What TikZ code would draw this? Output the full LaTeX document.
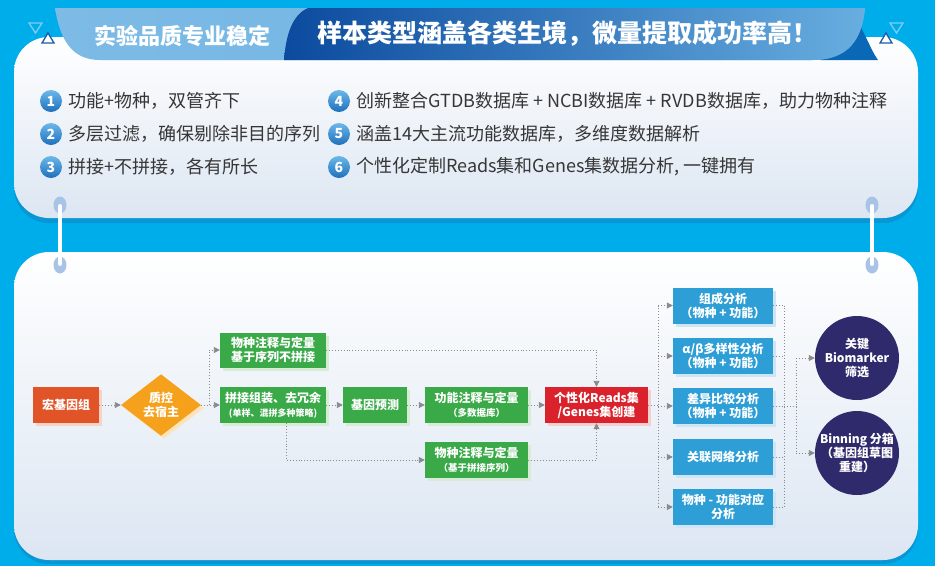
\documentclass[tikz,border=0pt]{standalone}
\usepackage{fontspec}
\setmainfont{Noto Sans CJK SC}
\usetikzlibrary{shapes.geometric,arrows.meta,shadows}
\definecolor{bg}{HTML}{00ADEB}
\definecolor{cardshadow}{HTML}{0896D4}
\definecolor{cardbot}{HTML}{DCE6F2}
\definecolor{cardmid}{HTML}{F4F7FB}
\definecolor{tabL}{HTML}{7DBBE6}
\definecolor{tabR}{HTML}{6AAFE0}
\definecolor{hdark}{HTML}{0B4A9E}
\definecolor{hright}{HTML}{68AEE0}
\definecolor{fold}{HTML}{0A68B6}
\definecolor{triL}{HTML}{7FCDF2}
\definecolor{triD}{HTML}{1B5CAA}
\definecolor{pincol}{HTML}{A8C3E6}
\definecolor{txt}{HTML}{363636}
\definecolor{numT}{HTML}{6CB8EA}
\definecolor{numB}{HTML}{1E70BC}
\definecolor{fgreen}{HTML}{3AAA48}
\definecolor{fgreenS}{HTML}{D6ECD4}
\definecolor{forange}{HTML}{E05428}
\definecolor{forangeS}{HTML}{F7D3C6}
\definecolor{fyellow}{HTML}{F5A11B}
\definecolor{fyellowS}{HTML}{FBE4BC}
\definecolor{fred}{HTML}{D9222B}
\definecolor{fredS}{HTML}{F5CFCF}
\definecolor{fblue}{HTML}{2E9ED6}
\definecolor{fblueS}{HTML}{CFE5F3}
\definecolor{fnavy}{HTML}{2F2A6C}
\definecolor{conncol}{HTML}{8A8A8A}
\begin{document}
\begin{tikzpicture}[x=1pt,y=-1pt,
  flowbox/.style={rectangle, text=white, font=\bfseries\fontsize{12}{14}\selectfont, align=center, inner sep=0pt, minimum height=36pt},
  gbox/.style={flowbox, fill=fgreen, general shadow={fill=fgreenS, shadow xshift=3pt, shadow yshift=-3pt}},
  bbox/.style={flowbox, fill=fblue, minimum width=100pt, general shadow={fill=fblueS, shadow xshift=3pt, shadow yshift=-3pt}},
  bigc/.style={circle, fill=fnavy, text=white, minimum size=84pt, inner sep=0pt, align=center, font=\bfseries\fontsize{12}{14}\selectfont},
  conn/.style={draw=conncol, dotted, line width=0.9pt, -{Triangle[length=6pt,width=6pt]}},
  plain/.style={draw=conncol, dotted, line width=0.9pt},
  numc/.style={circle, top color=numT, bottom color=numB, minimum size=22pt, inner sep=0pt, text=white, font=\bfseries\fontsize{14}{14}\selectfont},
  item/.style={anchor=west, inner sep=0pt, text=txt, font=\fontsize{18}{20}\selectfont},
  tri/.style={line width=1.3pt, line join=miter}
]
\useasboundingbox (0,0) rectangle (935,566);
\fill[bg] (0,0) rectangle (935,566);

% cards
\fill[cardshadow, rounded corners=35pt] (14,42) rectangle (918,223);
\shade[top color=white, middle color=cardmid, bottom color=cardbot, rounded corners=35pt] (14,37) rectangle (918,218);
\fill[cardshadow, rounded corners=35pt] (14,256) rectangle (918,564);
\shade[top color=white, middle color=cardmid, bottom color=cardbot, rounded corners=35pt] (14,252) rectangle (918,560);

% header
\fill[fold] (835,22) -- (858,22) .. controls (868,40) and (872,52) .. (878,60) -- (820,60) -- cycle;
\shade[left color=tabL, right color=tabR] (55,8) -- (865,8) .. controls (862,40) and (848,60) .. (812,60) -- (100,60) .. controls (72,60) and (60,40) .. (55,8) -- cycle;
\shade[left color=hdark, right color=hright] (308,8) -- (865,8) .. controls (862,40) and (848,60) .. (812,60) -- (284,60) .. controls (286,35) and (292,15) .. (308,8) -- cycle;
\node[text=white, font=\bfseries\fontsize{22}{24}\selectfont, inner sep=0pt] (h1) at (182,36) {实验品质专业稳定};
\node[text=white, font=\bfseries\fontsize{25}{27}\selectfont, inner sep=0pt] (h2) at (567,34) {样本类型涵盖各类生境，微量提取成功率高！};

% triangles
\draw[tri, draw=triL] (29,23) -- (42,23) -- (35.5,33) -- cycle;
\draw[tri, draw=triD, fill=white] (42,43) -- (54,43) -- (48,33) -- cycle;
\draw[tri, draw=triL] (890,23) -- (903,23) -- (896.5,33) -- cycle;
\draw[tri, draw=triD, fill=white] (880,43) -- (892,43) -- (886,33) -- cycle;

% pins
\foreach \px in {60,872} {
  \fill[pincol] (\px,205) ellipse [x radius=6.5pt, y radius=8.5pt];
  \fill[pincol] (\px,265) ellipse [x radius=6.5pt, y radius=8.5pt];
  \draw[white, line width=4pt, line cap=round] (\px,206) -- (\px,264);
}

% list
\node[numc] (n1) at (51,101) {1};
\node[item] (t1) at (68,101) {功能+物种，双管齐下};
\node[numc] (n2) at (51,134) {2};
\node[item] (t2) at (68,134) {多层过滤，确保剔除非目的序列};
\node[numc] (n3) at (51,167) {3};
\node[item] (t3) at (68,167) {拼接+不拼接，各有所长};
\node[numc] (n4) at (339,101) {4};
\node[item] (t4) at (356,101) {创新整合GTDB数据库 + NCBI数据库 + RVDB数据库，助力物种注释};
\node[numc] (n5) at (339,134) {5};
\node[item] (t5) at (356,134) {涵盖14大主流功能数据库，多维度数据解析};
\node[numc] (n6) at (339,167) {6};
\node[item] (t6) at (356,167) {个性化定制Reads集和Genes集数据分析, 一键拥有};

% flow nodes
\node[flowbox, fill=forange, minimum width=66pt, general shadow={fill=forangeS, shadow xshift=3pt, shadow yshift=-3pt}] (mg) at (66,405) {宏基因组};
\node[diamond, fill=fyellow, text=white, font=\bfseries\fontsize{12}{14}\selectfont, align=center, inner sep=0pt, minimum width=80pt, minimum height=45pt, general shadow={fill=fyellowS, shadow xshift=3pt, shadow yshift=-3pt}] (qc) at (161,405) {质控\\去宿主};
\node[gbox, minimum width=106pt, minimum height=35pt] (sp1) at (273,350) {物种注释与定量\\基于序列不拼接};
\node[gbox, minimum width=106pt] (asm) at (273,405) {拼接组装、去冗余\\{\fontsize{9}{11}\selectfont (单样、混拼多种策略)}};
\node[gbox, minimum width=64pt] (gp) at (375,405) {基因预测};
\node[gbox, minimum width=103pt] (fa) at (476.5,405) {功能注释与定量\\{\fontsize{9.5}{11}\selectfont （多数据库）}};
\node[gbox, minimum width=103pt] (sp2) at (476.5,460) {物种注释与定量\\{\fontsize{9.5}{11}\selectfont （基于拼接序列）}};
\node[flowbox, fill=fred, minimum width=103pt, general shadow={fill=fredS, shadow xshift=3pt, shadow yshift=-3pt}] (pr) at (596.5,405) {个性化Reads集\\/Genes集创建};

\node[bbox] (b1) at (723,305.5) {组成分析\\（物种 + 功能）};
\node[bbox] (b2) at (723,356) {α/β多样性分析\\（物种 + 功能）};
\node[bbox] (b3) at (723,406) {差异比较分析\\（物种 + 功能）};
\node[bbox] (b4) at (723,457) {关联网络分析};
\node[bbox] (b5) at (723,507) {物种 - 功能对应\\分析};

\node[bigc] (c1) at (857,358) {关键\\Biomarker\\筛选};
\node[bigc] (c2) at (857,453) {Binning 分箱\\（基因组草图\\重建）};

% connectors
\coordinate (j1) at (209,405);
\draw[conn] (mg.east) -- (qc.west);
\draw[conn] (qc.east) -- (asm.west);
\draw[conn] (j1) |- (sp1.west);
\draw[conn] (asm.east) -- (gp.west);
\draw[conn] (gp.east) -- (fa.west);
\draw[conn] (fa.east) -- (pr.west);
\draw[conn] (sp1.east) -| (pr.north);
\draw[conn] ([xshift=13pt]asm.south) |- (sp2.west);
\draw[conn] (sp2.east) -| (pr.south);

\coordinate (lbx) at (658,0);
\coordinate (rbx) at (784,0);
\coordinate (cbx) at (796,0);
\draw[plain] (pr.east) -- (pr.east -| lbx);
\draw[plain] (b1.west -| lbx) -- (b5.west -| lbx);
\draw[plain] (b1.east -| rbx) -- (b5.east -| rbx);
\foreach \b in {b1,b2,b3,b4,b5} {
  \draw[conn] (\b.west -| lbx) -- (\b.west);
  \draw[plain] (\b.east) -- (\b.east -| rbx);
}
\draw[plain] (b3.east -| rbx) -- (b3.east -| cbx);
\draw[plain] (c1.west -| cbx) -- (c2.west -| cbx);
\draw[conn] (c1.west -| cbx) -- (c1.west);
\draw[conn] (c2.west -| cbx) -- (c2.west);
\end{tikzpicture}
\end{document}
